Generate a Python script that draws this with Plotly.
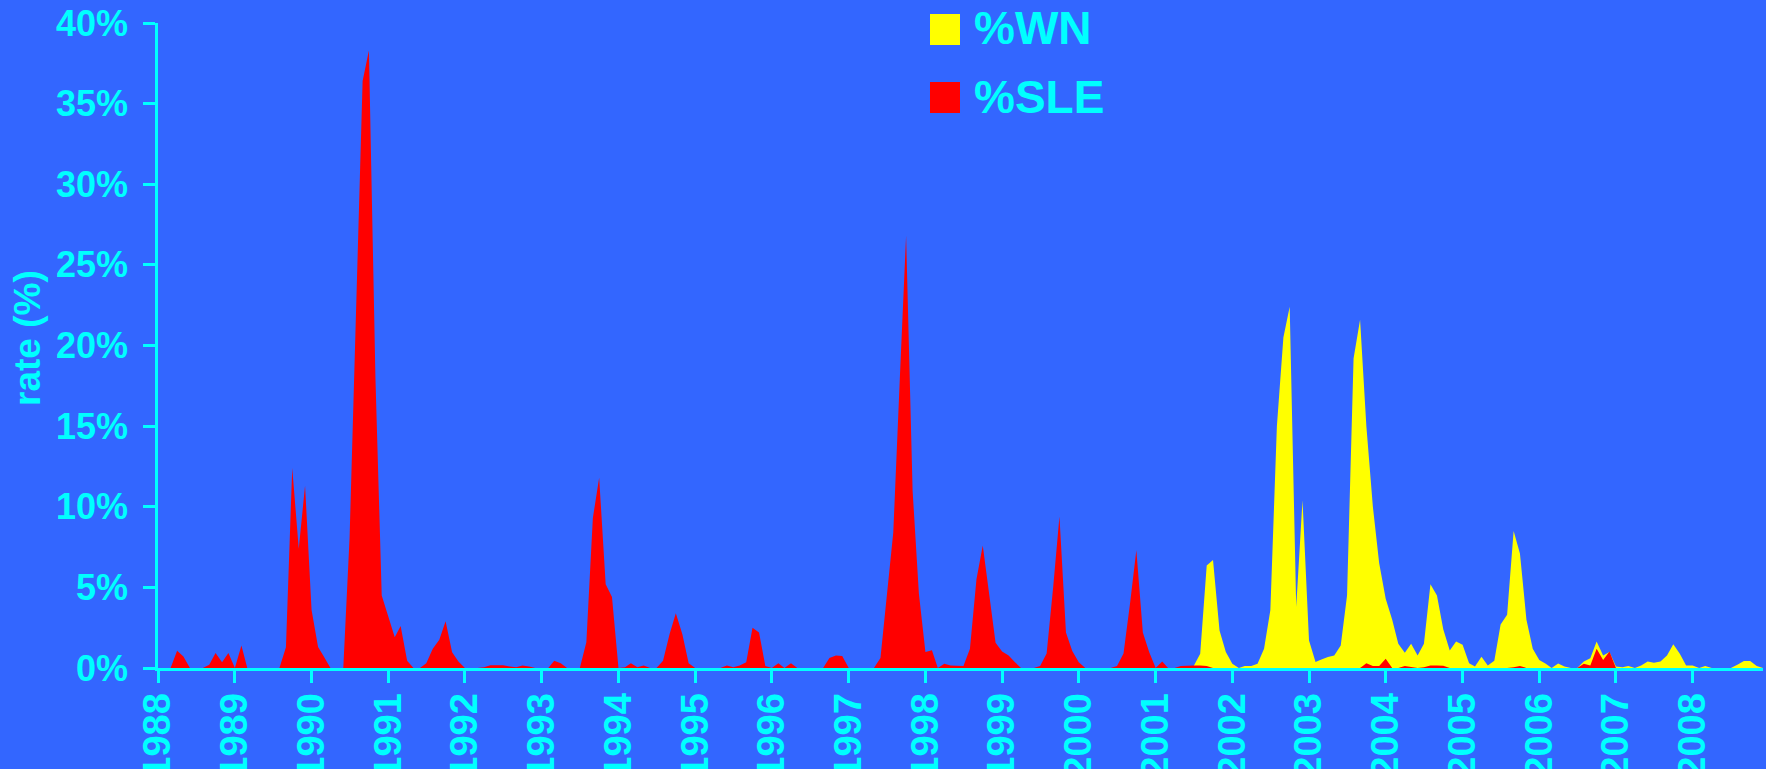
import plotly.graph_objects as go
import pandas as pd

# monthly rates, Jan 1988 .. Dec 2008 (one row per year)
months = pd.date_range("1988-01-01", periods=252, freq="MS")

sle_pct = [
    0, 0, 0, 1.07, 0.72, 0, 0, 0, 0.2, 0.93, 0.35, 0.93,          # 1988
    0, 1.4, 0, 0, 0, 0, 0, 0, 1.28, 12.4, 7.4, 11.3,              # 1989
    3.6, 1.3, 0.7, 0, 0, 0, 8.1, 22, 36.4, 38.3, 18, 4.5,         # 1990
    3.2, 1.9, 2.6, 0.45, 0, 0, 0.3, 1.2, 1.75, 2.9, 0.97, 0.4,    # 1991
    0, 0, 0, 0.05, 0.17, 0.17, 0.17, 0.1, 0.05, 0.15, 0.1, 0,     # 1992
    0, 0, 0.45, 0.3, 0, 0, 0, 1.6, 9.3, 11.8, 5.2, 4.4,           # 1993
    0, 0.05, 0.3, 0.05, 0.15, 0, 0, 0.45, 2.1, 3.4, 2.1, 0.3,     # 1994
    0, 0, 0, 0, 0, 0.15, 0.05, 0.15, 0.35, 2.5, 2.2, 0.13,        # 1995
    0, 0.3, 0, 0.3, 0, 0, 0, 0, 0, 0.62, 0.78, 0.75,              # 1996
    0, 0, 0, 0, 0, 0.62, 4.5, 8.4, 17.9, 26.8, 11, 4.6,           # 1997
    1.0, 1.1, 0, 0.27, 0.15, 0.12, 0.12, 1.2, 5.5, 7.6, 4.5, 1.57,  # 1998
    1.03, 0.78, 0.39, 0, 0, 0, 0.12, 0.9, 5.0, 9.4, 2.2, 1.05,    # 1999
    0.35, 0, 0, 0, 0, 0, 0.12, 0.9, 4.0, 7.3, 2.2, 1.0,           # 2000
    0, 0.41, 0, 0, 0.12, 0.16, 0.16, 0.16, 0.12, 0, 0, 0,         # 2001
    0, 0, 0, 0, 0, 0, 0, 0, 0, 0, 0, 0,                           # 2002
    0, 0, 0, 0, 0, 0, 0, 0, 0, 0.3, 0.12, 0.12,                   # 2003
    0.58, 0, 0, 0.12, 0.05, 0, 0.05, 0.16, 0.16, 0.14, 0, 0,      # 2004
    0, 0, 0, 0, 0, 0, 0, 0, 0.05, 0.12, 0, 0,                     # 2005
    0, 0, 0, 0, 0, 0, 0, 0.27, 0.16, 1.2, 0.5, 1.03,              # 2006
    0, 0, 0, 0, 0, 0, 0, 0, 0, 0, 0, 0,                           # 2007
    0, 0, 0, 0, 0, 0, 0, 0, 0, 0, 0, 0,                           # 2008
]

wn_pct = [
    0, 0, 0, 0, 0, 0, 0, 0, 0, 0, 0, 0,                           # 1988
    0, 0, 0, 0, 0, 0, 0, 0, 0, 0, 0, 0,                           # 1989
    0, 0, 0, 0, 0, 0, 0, 0, 0, 0, 0, 0,                           # 1990
    0, 0, 0, 0, 0, 0, 0, 0, 0, 0, 0, 0,                           # 1991
    0, 0, 0, 0, 0, 0, 0, 0, 0, 0, 0, 0,                           # 1992
    0, 0, 0, 0, 0, 0, 0, 0, 0, 0, 0, 0,                           # 1993
    0, 0, 0, 0, 0, 0, 0, 0, 0, 0, 0, 0,                           # 1994
    0, 0, 0, 0, 0, 0, 0, 0, 0, 0, 0, 0,                           # 1995
    0, 0, 0, 0, 0, 0, 0, 0, 0, 0, 0, 0,                           # 1996
    0, 0, 0, 0, 0, 0, 0, 0, 0, 0, 0, 0,                           # 1997
    0, 0, 0, 0, 0, 0, 0, 0, 0, 0, 0, 0,                           # 1998
    0, 0, 0, 0, 0, 0, 0, 0, 0, 0, 0, 0,                           # 1999
    0, 0, 0, 0, 0, 0, 0, 0, 0, 0, 0, 0,                           # 2000
    0, 0, 0, 0, 0, 0, 0.12, 0.89, 6.35, 6.7, 2.33, 1.0,           # 2001
    0.27, 0, 0.12, 0.12, 0.27, 1.2, 3.6, 15, 20.5, 22.4, 3.8, 10.4,  # 2002
    1.7, 0.37, 0.52, 0.68, 0.78, 1.4, 4.5, 19.2, 21.6, 15, 10, 6.5,  # 2003
    4.3, 3.0, 1.5, 0.95, 1.5, 0.78, 1.5, 5.2, 4.5, 2.4, 1.09, 1.65,  # 2004
    1.44, 0.3, 0.1, 0.7, 0.15, 0.45, 2.7, 3.3, 8.5, 7.1, 3.0, 1.2,   # 2005
    0.5, 0.27, 0, 0.28, 0.1, 0, 0, 0.4, 0.6, 1.65, 0.77, 1.0,        # 2006
    0.1, 0.05, 0.13, 0, 0.16, 0.41, 0.33, 0.4, 0.78, 1.48, 0.89, 0.16,  # 2007
    0.16, 0, 0.12, 0, 0, 0, 0, 0.2, 0.43, 0.43, 0.12, 0,           # 2008
]

series_names = ["%WN", "%SLE"]
series_colors = ["#FFFF00", "#FF0000"]

BG = "#3366FF"
CYAN = "#00FFFF"
FONT = "Liberation Sans, Arial, sans-serif"

W, H = 1766, 769
L, R, T, B = 158, 3, 23, 101
pw, ph = W - L - R, H - T - B

fig = go.Figure()
for name, vals, col in zip(series_names, [wn_pct, sle_pct], series_colors):
    fig.add_trace(go.Scatter(
        x=months, y=vals, name=name, mode="lines",
        line=dict(width=0, color=col), fill="tozeroy", fillcolor=col,
        showlegend=False, hoverinfo="x+y",
    ))

fig.update_layout(
    width=W, height=H,
    margin=dict(l=L, r=R, t=T, b=B, autoexpand=False),
    paper_bgcolor=BG, plot_bgcolor=BG,
    font=dict(family=FONT, color=CYAN),
    showlegend=False,
)

fig.update_xaxes(
    range=[months[0], months[-1]],
    tick0="1988-01-01", dtick="M12", tickformat="%Y",
    tickangle=-90, automargin=False,
    tickfont=dict(family=FONT, size=38, color=CYAN, weight="bold"),
    showgrid=False, zeroline=False,
    showline=True, linecolor=CYAN, linewidth=3,
    ticks="outside", ticklen=12, tickwidth=2.5, tickcolor=CYAN,
    ticklabelstandoff=-5,
)

fig.update_yaxes(
    range=[0, 40], dtick=5, ticksuffix="%", automargin=False,
    tickfont=dict(family=FONT, size=36, color=CYAN, weight="bold"),
    showgrid=False, zeroline=False,
    showline=True, linecolor=CYAN, linewidth=2.5,
    ticks="outside", ticklen=12, tickwidth=2.5, tickcolor=CYAN,
    ticklabelstandoff=8,
)

def px_x(px):
    return (px - L) / pw

def px_y(py):
    return 1 - (py - T) / ph

# y axis title placed by hand, close to the tick labels
fig.add_annotation(xref="paper", yref="paper", x=px_x(27), y=px_y(338),
                   text="rate (%)", textangle=-90, showarrow=False,
                   xanchor="center", yanchor="middle",
                   font=dict(family=FONT, size=37, color=CYAN, weight="bold"))

# legend drawn by hand: large squares with big labels
legend_rows = [(14, 45), (82, 113)]
for (y0, y1), name, col in zip(legend_rows, series_names, series_colors):
    fig.add_shape(type="rect", xref="paper", yref="paper",
                  x0=px_x(930), x1=px_x(960), y0=px_y(y1), y1=px_y(y0),
                  fillcolor=col, line=dict(width=0))
    fig.add_annotation(xref="paper", yref="paper", x=px_x(972), y=px_y((y0 + y1) / 2 - 1),
                       text=name, showarrow=False, xanchor="left", yanchor="middle",
                       font=dict(family=FONT, size=46, color=CYAN, weight="bold"))

fig.write_html("out.html", config={"displayModeBar": False},
               post_script="document.body.style.margin='0';")
